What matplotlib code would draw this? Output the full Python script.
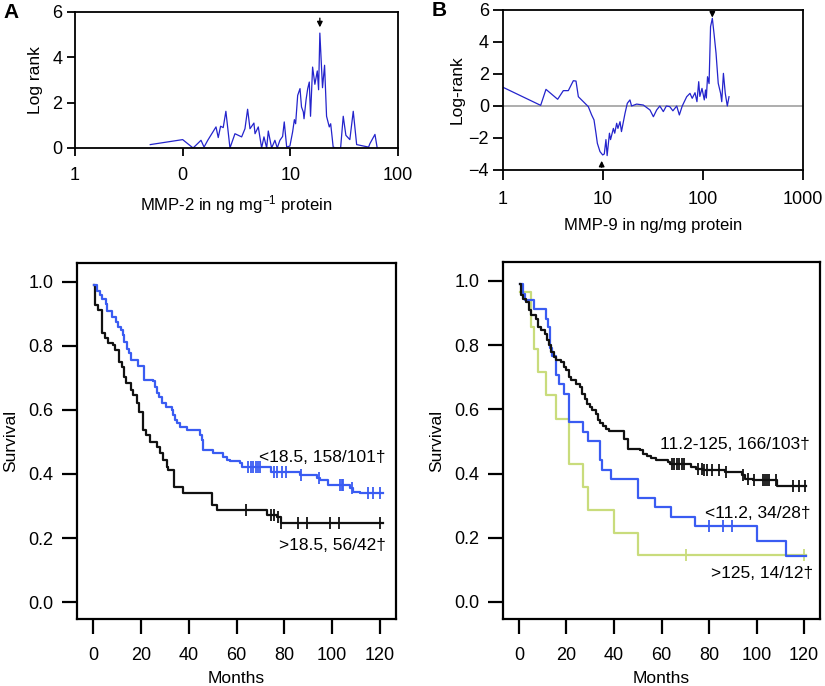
import numpy as np
import matplotlib
matplotlib.use("Agg")
import matplotlib.pyplot as plt

plt.rcParams['font.family'] = ['Liberation Sans', 'DejaVu Sans']
plt.rcParams['mathtext.fontset'] = 'custom'
plt.rcParams['mathtext.rm'] = 'Liberation Sans'
plt.rcParams['mathtext.it'] = 'Liberation Sans:italic'

# ---------------- data ----------------
mmp2_x = [0.50, 1.0, 1.25, 1.48, 1.58, 1.71, 2.04, 2.14, 2.25, 2.38, 2.52, 2.75, 3.06, 3.53, 3.79,
          4.01, 4.22, 4.59, 4.70, 5.04, 5.41, 5.69, 6.03, 6.24, 6.47, 6.70, 7.19, 7.56, 8.0, 8.48,
          8.78, 9.25, 9.91, 10.5, 10.9, 11.2, 11.7, 12.3, 12.7, 13.2, 13.4, 14.0, 14.5, 15.0, 15.4,
          16.1, 16.9, 17.8, 18.3, 18.8, 19.9, 20.8, 21.7, 23.0, 23.7, 25.0, 26.5, 29.3, 31.0, 32.8,
          35.7, 38.4, 41.3, 53.3, 54.8, 61.1, 64.1]
mmp2_y = [0.15, 0.37, 0.0, 0.34, 0.04, 0.34, 0.93, 0.46, 0.96, 0.9, 1.62, 0.0, 0.63, 0.49, 0.85,
          1.71, 0.85, 1.10, 0.63, 0.93, 0.0, 0.49, 0.0, 0.75, 0.37, 0.0, 0.34, 0.0, 0.34, 0.51,
          1.15, 0.04, 0.09, 0.71, 1.25, 1.07, 2.32, 2.62, 1.81, 1.59, 1.29, 2.13, 2.62, 2.91, 1.40,
          3.57, 2.81, 3.40, 2.57, 5.07, 2.66, 3.65, 1.40, 0.93, 1.07, 0.04, 0.0, 0.0, 1.40, 0.56,
          0.37, 1.62, 0.15, 0.04, 0.19, 0.60, 0.0]
mmp2_cut = 18.8

mmp9_x = [1.0, 2.38, 2.69, 3.52, 4.01, 4.5, 5.05, 5.37, 5.67, 6.36, 7.13, 7.7, 8.13, 8.51, 8.78,
          9.33, 9.93, 10.3, 10.7, 11.0, 11.6, 11.9, 12.7, 13.1, 13.7, 14.1, 14.8, 15.3, 16.6, 17.5,
          18.6, 19.3, 21.7, 25.3, 29.5, 31.9, 34.4, 37.0, 40.1, 43.0, 46.5, 50.0, 54.6, 58.0, 62.0,
          68.7, 74.1, 78.0, 83.2, 87.0, 90.6, 93.0, 97.7, 103, 106, 108, 111, 115, 119, 124, 129,
          135, 142, 150, 154, 160, 167, 175, 182]
mmp9_y = [1.17, 0.04, 1.04, 0.42, 0.96, 0.96, 1.58, 1.56, 0.58, 0.27, -0.04, -0.56, -0.87, -1.71,
          -2.33, -2.85, -3.06, -3.0, -2.1, -3.1, -1.7, -2.1, -1.4, -1.7, -1.08, -1.4, -0.98, -1.6,
          -0.46, 0.17, 0.38, 0.0, 0.12, 0.06, -0.25, -0.67, -0.25, 0.0, -0.35, 0.0, -0.04, -0.3,
          0.0, -0.56, 0.0, 0.58, 0.79, 0.48, 0.83, 0.27, 1.52, 0.6, 1.1, 0.38, 1.0, 0.5, 1.83, 1.4,
          4.96, 5.48, 4.5, 3.3, 1.42, 0.79, 0.27, 2.04, 0.79, 0.0, 0.58]
mmp9_cut_high = 124
mmp9_cut_low = 9.7

# Kaplan-Meier, MMP-2
a_low_t = [0.5, 1.5, 2.9, 3.6, 5.4, 6.0, 8.1, 9.6, 10.6, 11.6, 12.4, 13.0, 14.1, 15.2, 15.9, 19.0,
           21.3, 25.2, 25.9, 26.9, 27.5, 28.7, 30.4, 32.9, 33.3, 34.3, 35.0, 36.4, 39.4, 44.7, 45.4,
           45.9, 50.3, 54.2, 55.9, 57.3, 61.5, 62.2, 74.5, 86.5, 93.5, 95.0, 98.4, 107.4, 108.8,
           111.6, 121.4]
a_low_s = [0.99, 0.97, 0.96, 0.945, 0.93, 0.91, 0.89, 0.876, 0.86, 0.85, 0.834, 0.813, 0.79, 0.777,
           0.756, 0.737, 0.694, 0.689, 0.673, 0.652, 0.642, 0.621, 0.61, 0.60, 0.584, 0.569, 0.558,
           0.548, 0.537, 0.522, 0.506, 0.475, 0.465, 0.454, 0.444, 0.439, 0.433, 0.423, 0.405,
           0.397, 0.386, 0.381, 0.366, 0.355, 0.345, 0.34, 0.34]
a_low_cens = [64.9, 65.9, 67.0, 68.1, 69.1, 69.8, 75.7, 77.1, 78.9, 80.7, 86.8, 94.6, 103.3, 104.0,
              104.7, 108.1, 115.1, 117.2, 120.0]

a_high_t = [0.5, 0.8, 2.2, 3.6, 5.0, 6.4, 8.5, 9.2, 10.9, 12.0, 13.0, 13.8, 15.7, 16.9, 18.3, 19.4,
            20.8, 22.2, 23.8, 26.9, 28.0, 29.4, 30.8, 31.5, 33.9, 37.8, 49.9, 52.0, 72.6, 76.8,
            78.6, 121.4]
a_high_s = [0.99, 0.928, 0.9125, 0.84, 0.824, 0.808, 0.803, 0.7875, 0.751, 0.735, 0.704, 0.683,
            0.6625, 0.647, 0.621, 0.595, 0.5375, 0.522, 0.501, 0.485, 0.465, 0.444, 0.423, 0.4125,
            0.358, 0.34, 0.303, 0.2875, 0.272, 0.265, 0.246, 0.246]
a_high_cens = [64.0, 74.3, 75.8, 77.5, 78.6, 85.8, 89.6, 99.1, 102.8, 120.0]

# Kaplan-Meier, MMP-9
b_mid_t = [0.5, 1.0, 1.7, 3.1, 4.1, 5.2, 7.0, 8.0, 9.4, 10.8, 11.8, 12.6, 13.5, 14.6, 15.7, 17.8,
           18.8, 19.9, 21.1, 21.9, 23.9, 25.5, 26.7, 27.6, 28.6, 29.8, 30.9, 32.3, 33.3, 34.2, 35.4,
           36.8, 37.9, 44.1, 45.9, 50.8, 52.2, 53.9, 55.7, 57.8, 62.7, 63.4, 72.6, 74.7, 77.5,
           86.6, 94.0, 95.0, 98.5, 108.4, 121.0]
b_mid_s = [0.99, 0.955, 0.945, 0.935, 0.909, 0.893, 0.883, 0.857, 0.846, 0.836, 0.815, 0.80, 0.779,
           0.763, 0.753, 0.748, 0.732, 0.722, 0.701, 0.69, 0.68, 0.67, 0.649, 0.633, 0.618, 0.607,
           0.597, 0.587, 0.566, 0.556, 0.547, 0.54, 0.532, 0.509, 0.478, 0.4725, 0.462, 0.455,
           0.447, 0.441, 0.436, 0.431, 0.42, 0.415, 0.41, 0.405, 0.395, 0.384, 0.379, 0.36, 0.36]
b_mid_cens = [64.3, 65.3, 66.4, 67.5, 68.5, 69.5, 75.5, 76.9, 77.9, 79.0, 81.1, 84.3, 87.0, 94.5,
              96.6, 99.1, 102.9, 103.6, 104.6, 105.4, 108.2, 115.5, 118.0, 120.4]

b_low_t = [0.5, 1.7, 2.4, 6.2, 11.2, 12.2, 13.2, 14.0, 15.7, 16.8, 18.8, 21.1, 26.9, 29.1, 34.0,
           35.1, 38.9, 50.1, 57.4, 64.1, 74.1, 100.2, 112.3, 121.0]
b_low_s = [0.99, 0.96, 0.94, 0.912, 0.883, 0.857, 0.79, 0.765, 0.706, 0.678, 0.649, 0.561, 0.53,
           0.50, 0.441, 0.412, 0.384, 0.324, 0.296, 0.265, 0.237, 0.189, 0.142, 0.142]
b_low_cens = [80.0, 85.9, 89.8]

b_high_t = [0.3, 5.2, 6.2, 8.0, 11.2, 15.7, 21.1, 26.9, 29.1, 39.9, 50.1, 121.0]
b_high_s = [0.966, 0.857, 0.789, 0.716, 0.644, 0.571, 0.429, 0.358, 0.286, 0.215, 0.145, 0.145]
b_high_cens = [70.2, 120.0]

c_blue = '#3a5cf2'
c_black = '#111111'
c_yellow = '#c9dc7c'
c_line = '#2424cc'

W, H = 825, 686
fig = plt.figure(figsize=(W / 100, H / 100), dpi=100)


def add_ax(l, r, t, b):
    return fig.add_axes([l / W, (H - b) / H, (r - l) / W, (b - t) / H])


def style(ax, lw, tlen, pad_x, pad_y, fs):
    for s in ax.spines.values():
        s.set_linewidth(lw)
    ax.tick_params(axis='both', direction='out', width=lw, length=tlen, labelsize=fs)
    ax.tick_params(axis='x', pad=pad_x)
    ax.tick_params(axis='y', pad=pad_y)


# ---- top left ----
ax1 = add_ax(75, 398, 12, 148)
ax1.plot(mmp2_x, mmp2_y, color=c_line, lw=0.9)
ax1.set_xscale('log')
ax1.set_xlim(0.1, 100)
ax1.set_ylim(0, 6)
ax1.set_xticks([0.1, 1, 10, 100])
ax1.set_xticklabels(['1', '0', '10', '100'])
ax1.xaxis.set_minor_locator(matplotlib.ticker.NullLocator())
ax1.set_yticks([0, 2, 4, 6])
style(ax1, 1.3, 6, 8, 3, 13)
ax1.set_ylabel('Log rank', fontsize=12.5, labelpad=7)
ax1.set_xlabel('MMP-2 in ng mg$^{-1}$ protein', fontsize=12, labelpad=6)
ax1.annotate('', xy=(mmp2_cut, 5.2), xytext=(mmp2_cut, 5.85),
             arrowprops=dict(arrowstyle='-|>', color='black', lw=1, mutation_scale=8))

# ---- top right ----
ax2 = add_ax(503, 803, 10, 170)
ax2.axhline(0, color='#a0a0a0', lw=1.2, zorder=1)
ax2.plot(mmp9_x, mmp9_y, color=c_line, lw=0.9, zorder=2)
ax2.set_xscale('log')
ax2.set_xlim(1, 1000)
ax2.set_ylim(-4, 6)
ax2.set_xticks([1, 10, 100, 1000])
ax2.set_xticklabels(['1', '10', '100', '1000'])
ax2.xaxis.set_minor_locator(matplotlib.ticker.NullLocator())
ax2.set_yticks([-4, -2, 0, 2, 4, 6])
ax2.set_yticklabels(['\u22124', '\u22122', '0', '2', '4', '6'])
style(ax2, 1.3, 7, 8, 3, 13)
ax2.set_ylabel('Log-rank', fontsize=12.5, labelpad=3)
ax2.set_xlabel('MMP-9 in ng/mg protein', fontsize=12, labelpad=7)
ax2.annotate('', xy=(mmp9_cut_high, 5.35), xytext=(mmp9_cut_high, 6.0),
             arrowprops=dict(arrowstyle='-|>', color='black', lw=1, mutation_scale=8))
ax2.annotate('', xy=(mmp9_cut_low, -3.25), xytext=(mmp9_cut_low, -4.0),
             arrowprops=dict(arrowstyle='-|>', color='black', lw=1, mutation_scale=8))


def km(ax, t, s, cens, color):
    ax.plot(t, s, drawstyle='steps-post', color=color, lw=1.6)
    t_arr = np.asarray(t)
    s_arr = np.asarray(s)
    idx = np.searchsorted(t_arr, np.asarray(cens), side='right') - 1
    ax.plot(cens, s_arr[idx], linestyle='none', marker='|', color=color, ms=8, mew=1.3)


def km_axes(ax):
    ax.set_xlim(-6.7, 126.7)
    ax.set_ylim(-0.053, 1.059)
    ax.set_xticks([0, 20, 40, 60, 80, 100, 120])
    ax.set_yticks([0.0, 0.2, 0.4, 0.6, 0.8, 1.0])
    ax.set_yticklabels(['0.0', '0.2', '0.4', '0.6', '0.8', '1.0'])
    style(ax, 1.6, 11, 9, 6, 13)
    ax.set_xlabel('Months', fontsize=12.5, labelpad=5)
    ax.set_ylabel('Survival', fontsize=12.5, labelpad=7)


# ---- bottom left ----
ax3 = add_ax(77, 396, 263, 619)
km(ax3, a_high_t, a_high_s, a_high_cens, c_black)
km(ax3, a_low_t, a_low_s, a_low_cens, c_blue)
km_axes(ax3)
ax3.text(122.5, 0.452, '<18.5, 158/101\u2020', ha='right', va='center', fontsize=12.5)
ax3.text(122.5, 0.178, '>18.5, 56/42\u2020', ha='right', va='center', fontsize=12.5)

# ---- bottom right ----
ax4 = add_ax(503, 820, 262, 619)
km(ax4, b_high_t, b_high_s, b_high_cens, c_yellow)
km(ax4, b_low_t, b_low_s, b_low_cens, c_blue)
km(ax4, b_mid_t, b_mid_s, b_mid_cens, c_black)
km_axes(ax4)
ax4.text(122.5, 0.489, '11.2-125, 166/103\u2020', ha='right', va='center', fontsize=12.5)
ax4.text(122.5, 0.277, '<11.2, 34/28\u2020', ha='right', va='center', fontsize=12.5)
ax4.text(124, 0.090, '>125, 14/12\u2020', ha='right', va='center', fontsize=12.5)

fig.text(3 / W, 1 - 12 / H, 'A', fontsize=15, fontweight='bold', va='center', ha='left')
fig.text(432 / W, 1 - 10 / H, 'B', fontsize=15, fontweight='bold', va='center', ha='left')

fig.savefig('out.png', dpi=100)
